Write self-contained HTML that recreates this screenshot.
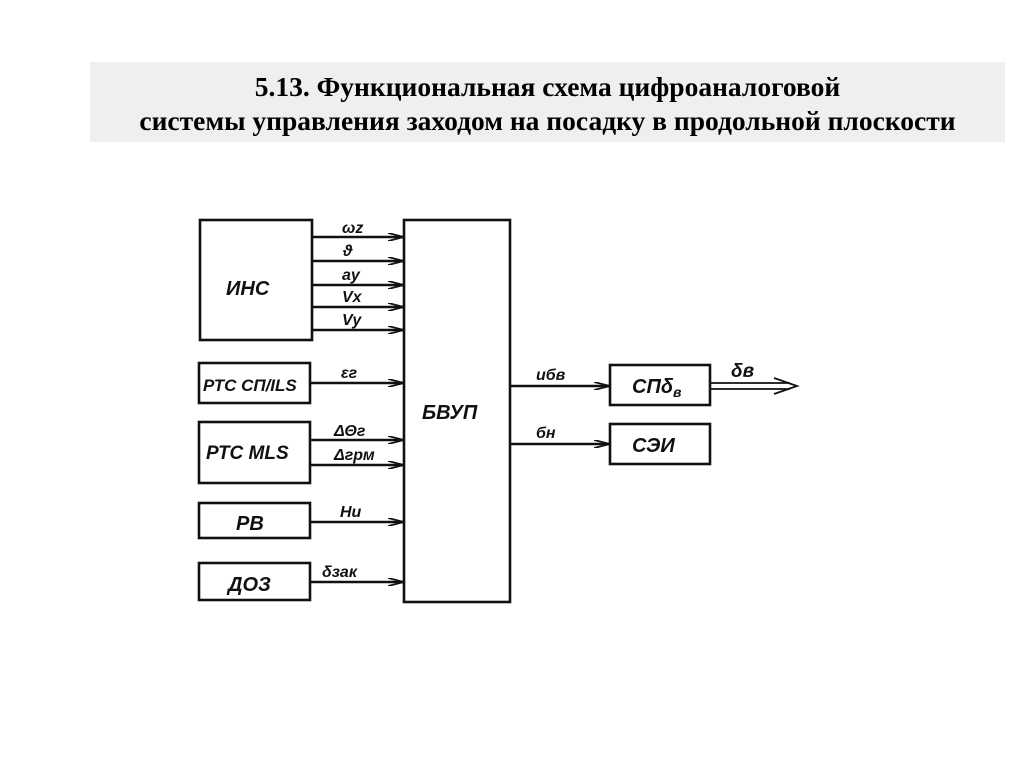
<!DOCTYPE html>
<html><head><meta charset="utf-8"><style>
body{margin:0;background:#fff;width:1024px;height:767px;overflow:hidden;position:relative}
.t{position:absolute;left:90px;top:62px;width:915px;height:80px;background:#efefef;font-family:"Liberation Serif",serif;font-weight:bold;font-size:27.5px;text-align:center;line-height:34px;padding-top:8px;box-sizing:border-box;white-space:nowrap}
svg{position:absolute;left:0;top:0}
text{font-family:"Liberation Sans",sans-serif;font-style:italic;fill:#111}
</style></head><body>
<div class="t">5.13. Функциональная схема цифроаналоговой<br>системы управления заходом на посадку в продольной плоскости</div>
<svg width="1024" height="767" viewBox="0 0 1024 767">
<defs><marker id="a" markerWidth="16" markerHeight="8" refX="16" refY="4" orient="auto" markerUnits="userSpaceOnUse"><path d="M0,0 L16,4 L0,8" fill="none" stroke="#111" stroke-width="1.8"/></marker></defs>
<g fill="none" stroke="#111" stroke-width="2.6">
<rect x="200" y="220" width="112" height="120"/>
<rect x="404" y="220" width="106" height="382"/>
<rect x="199" y="363" width="111" height="40"/>
<rect x="199" y="422" width="111" height="61"/>
<rect x="199" y="503" width="111" height="35"/>
<rect x="199" y="563" width="111" height="37"/>
<rect x="610" y="365" width="100" height="40"/>
<rect x="610" y="424" width="100" height="40"/>
</g>
<g stroke="#111" stroke-width="2.4" marker-end="url(#a)">
<line x1="312" y1="237" x2="404" y2="237"/>
<line x1="312" y1="261" x2="404" y2="261"/>
<line x1="312" y1="285" x2="404" y2="285"/>
<line x1="312" y1="307" x2="404" y2="307"/>
<line x1="312" y1="330" x2="404" y2="330"/>
<line x1="310" y1="383" x2="404" y2="383"/>
<line x1="310" y1="440" x2="404" y2="440"/>
<line x1="310" y1="465" x2="404" y2="465"/>
<line x1="310" y1="522" x2="404" y2="522"/>
<line x1="310" y1="582" x2="404" y2="582"/>
<line x1="510" y1="386" x2="610" y2="386"/>
<line x1="510" y1="444" x2="610" y2="444"/>
</g>
<g stroke="#111" stroke-width="1.8" fill="none">
<line x1="710" y1="383" x2="790" y2="383"/>
<line x1="710" y1="389" x2="790" y2="389"/>
<path d="M774,378 L797,386 L774,394"/>
</g>
<g font-size="20" font-weight="bold">
<text x="226" y="295">ИНС</text>
<text x="422" y="419">БВУП</text>
<text x="203" y="391" font-size="17">РТС СП/ILS</text>
<text x="206" y="459" font-size="19">РТС MLS</text>
<text x="236" y="530">РВ</text>
<text x="228" y="591">ДОЗ</text>
<text x="632" y="393">СПδ<tspan font-size="14" dy="4">в</tspan></text>
<text x="632" y="452">СЭИ</text>
</g>
<g font-size="16" font-weight="bold">
<text x="342" y="233">ωz</text>
<text x="343" y="256">ϑ</text>
<text x="342" y="280">ay</text>
<text x="342" y="302">Vx</text>
<text x="342" y="325">Vy</text>
<text x="341" y="378">εг</text>
<text x="334" y="436">ΔΘг</text>
<text x="334" y="460">Δгрм</text>
<text x="340" y="517">Hи</text>
<text x="322" y="577">δзак</text>
<text x="536" y="380">uбв</text>
<text x="536" y="438">бн</text>
<text x="731" y="377" font-size="19">δв</text>
</g>
</svg>
</body></html>
